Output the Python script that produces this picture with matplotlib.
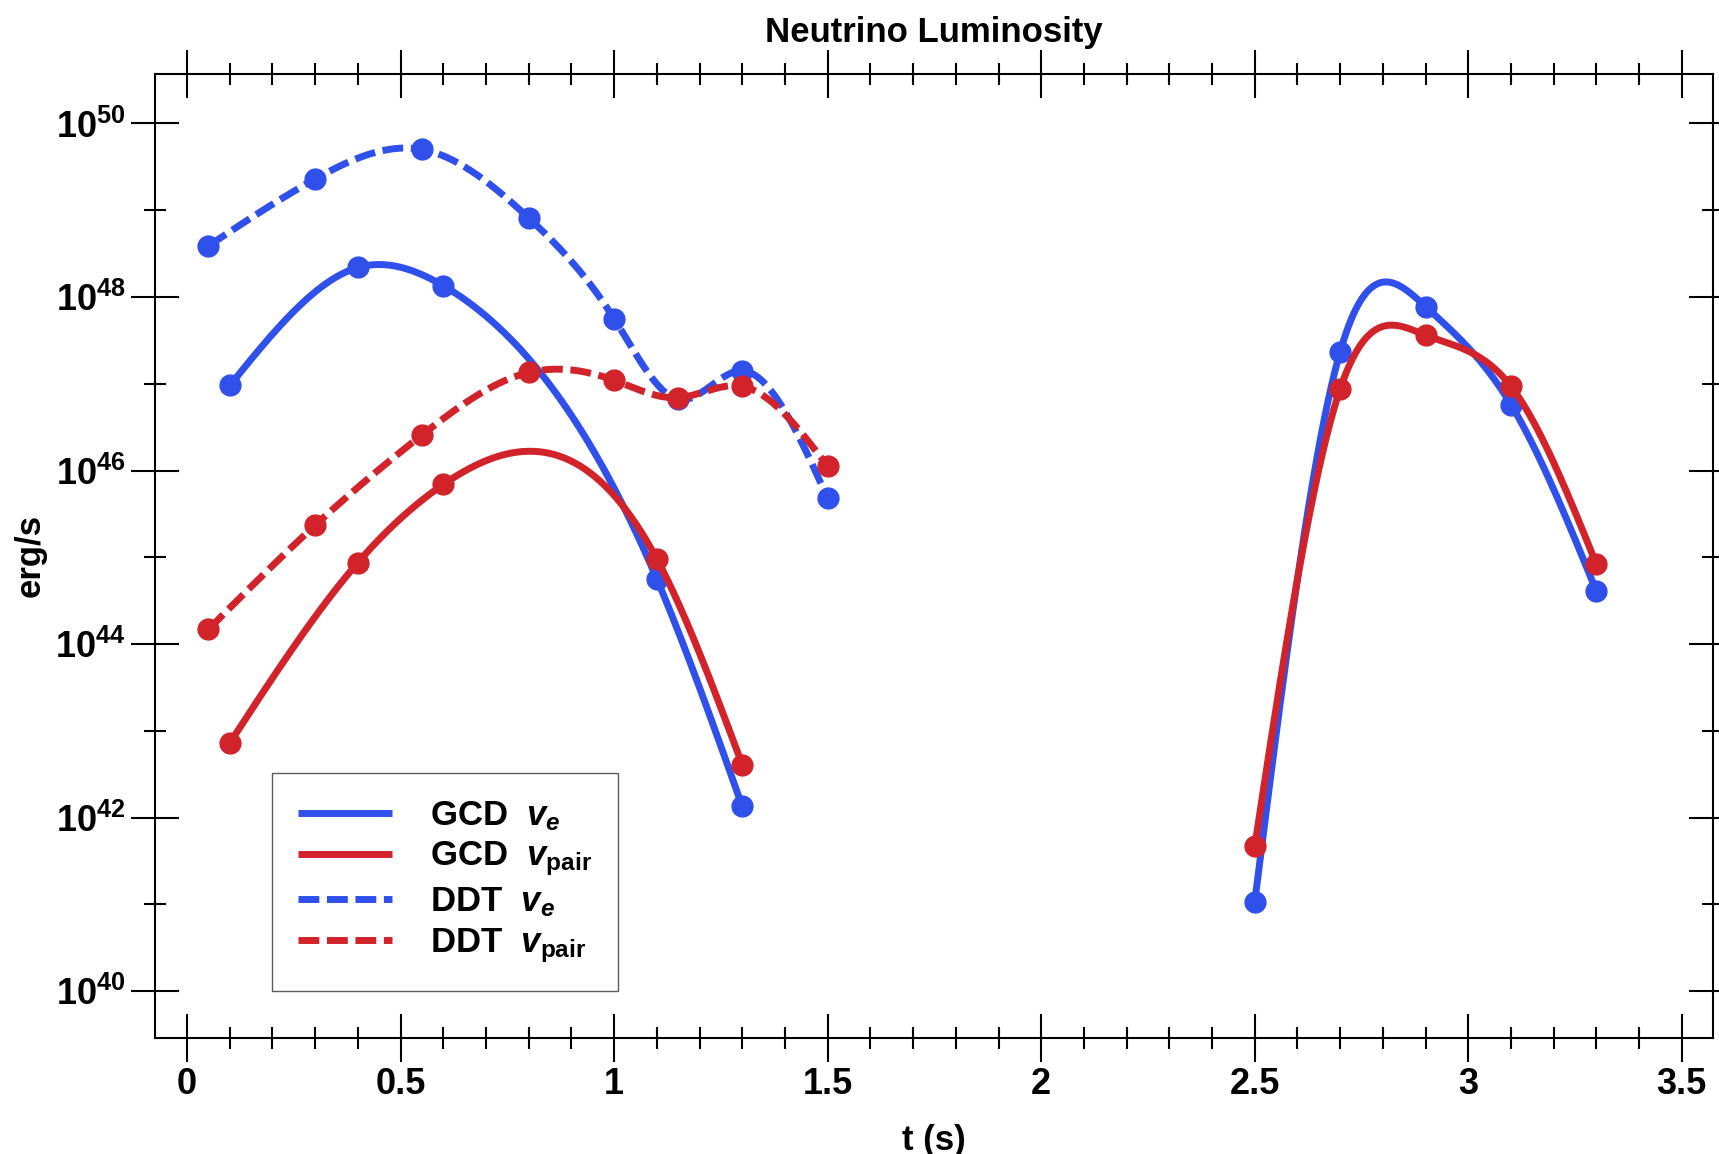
import numpy as np
import matplotlib
matplotlib.use("Agg")
import matplotlib.pyplot as plt
from matplotlib.ticker import FixedLocator, NullFormatter, LogFormatterSciNotation

plt.rcParams['font.family'] = ['Liberation Sans', 'DejaVu Sans']
plt.rcParams['font.weight'] = 'bold'
plt.rcParams['mathtext.fontset'] = 'custom'
plt.rcParams['mathtext.rm'] = 'Liberation Sans:bold'
plt.rcParams['mathtext.bf'] = 'Liberation Sans:bold'
plt.rcParams['mathtext.it'] = 'Liberation Sans:bold:italic'

# data (log10 of luminosity in erg/s)
gcd_t1 = [0.1, 0.4, 0.6, 1.1, 1.3]
gcd_t2 = [2.5, 2.7, 2.9, 3.1, 3.3]
gcd_ve_1 = [46.98, 48.34, 48.13, 44.75, 42.13]
gcd_ve_2 = [41.03, 47.37, 47.89, 46.76, 44.61]
gcd_pair_1 = [42.86, 44.94, 45.84, 44.98, 42.61]
gcd_pair_2 = [41.67, 46.94, 47.56, 46.97, 44.92]

ddt_t = [0.05, 0.3, 0.55, 0.8, 1.0, 1.15, 1.3, 1.5]
ddt_ve = [48.59, 49.36, 49.70, 48.91, 47.75, 46.82, 47.15, 45.68]
ddt_pair = [44.17, 45.37, 46.41, 47.13, 47.04, 46.84, 46.97, 46.05]

blue = '#3050EC'
red = '#D2232B'


def natural_spline(x, y, n=300):
    # natural cubic spline through the points, for a smooth curve
    x = np.asarray(x, float)
    y = np.asarray(y, float)
    k = len(x)
    h = np.diff(x)
    A = np.zeros((k, k))
    b = np.zeros(k)
    A[0, 0] = 1
    A[-1, -1] = 1
    for i in range(1, k - 1):
        A[i, i - 1] = h[i - 1]
        A[i, i] = 2 * (h[i - 1] + h[i])
        A[i, i + 1] = h[i]
        b[i] = 6 * ((y[i + 1] - y[i]) / h[i] - (y[i] - y[i - 1]) / h[i - 1])
    M = np.linalg.solve(A, b)
    xs = np.linspace(x[0], x[-1], n)
    j = np.clip(np.searchsorted(x, xs) - 1, 0, k - 2)
    t0 = x[j + 1] - xs
    t1 = xs - x[j]
    hj = h[j]
    ys = (M[j] * t0**3 + M[j + 1] * t1**3) / (6 * hj) \
        + (y[j] / hj - M[j] * hj / 6) * t0 + (y[j + 1] / hj - M[j + 1] * hj / 6) * t1
    return xs, ys


fig, ax = plt.subplots(figsize=(17.19, 11.54), dpi=100)
fig.subplots_adjust(left=0.0902, right=0.9965, bottom=0.1005, top=0.9359)

lw = 5.0
ms = 15
dash = (3.0, 1.1)

series = [
    ([gcd_t1, gcd_t2], [gcd_ve_1, gcd_ve_2], blue, 'solid', r'GCD  $v_e$'),
    ([gcd_t1, gcd_t2], [gcd_pair_1, gcd_pair_2], red, 'solid', r'GCD  $v_{\mathrm{pair}}$'),
    ([ddt_t], [ddt_ve], blue, 'dashed', r'DDT  $v_e$'),
    ([ddt_t], [ddt_pair], red, 'dashed', r'DDT  $v_{\mathrm{pair}}$'),
]

for ts, vals, color, style, label in series:
    for i, (t, v) in enumerate(zip(ts, vals)):
        xs, ys = natural_spline(t, v)
        line, = ax.plot(xs, 10**ys, color=color, lw=lw,
                        label=label if i == 0 else None, solid_capstyle='butt')
        if style == 'dashed':
            line.set_dashes(dash)
        ax.plot(t, 10**np.asarray(v), 'o', color=color, ms=ms, mec=color)

ax.set_yscale('log')
ax.set_xlim(-0.075, 3.573)
ax.set_ylim(10**39.46, 10**50.57)

ax.xaxis.set_major_locator(FixedLocator(np.arange(0, 3.51, 0.5)))
ax.xaxis.set_minor_locator(FixedLocator(np.arange(0, 3.56, 0.1)))
ax.set_xticklabels(['0', '0.5', '1', '1.5', '2', '2.5', '3', '3.5'])
ax.yaxis.set_major_locator(FixedLocator(10.0**np.arange(40, 51, 2)))
ax.yaxis.set_minor_locator(FixedLocator(10.0**np.arange(41, 51, 2)))
ax.yaxis.set_major_formatter(LogFormatterSciNotation())
ax.yaxis.set_minor_formatter(NullFormatter())

ax.tick_params(which='both', direction='inout', top=True, right=True,
               width=1.5, labelsize=26, pad=4)
ax.tick_params(which='major', length=34)
ax.tick_params(which='minor', length=16.5)
for s in ax.spines.values():
    s.set_linewidth(1.5)

ax.set_xlabel('t (s)', fontsize=25, fontweight='bold', labelpad=16)
ax.set_ylabel('erg/s', fontsize=25, fontweight='bold', labelpad=6)
ax.set_title('Neutrino Luminosity', fontsize=25, fontweight='bold', pad=23)

leg = ax.legend(loc='lower left', bbox_to_anchor=(0.075, 0.049), borderaxespad=0,
                fontsize=25, handlelength=2.7, handletextpad=1.1,
                labelspacing=0.2, fancybox=False, borderpad=0.75)
leg.get_frame().set_edgecolor('#333333')
leg.get_frame().set_linewidth(1.0)

plt.savefig('out.png', dpi=100)
